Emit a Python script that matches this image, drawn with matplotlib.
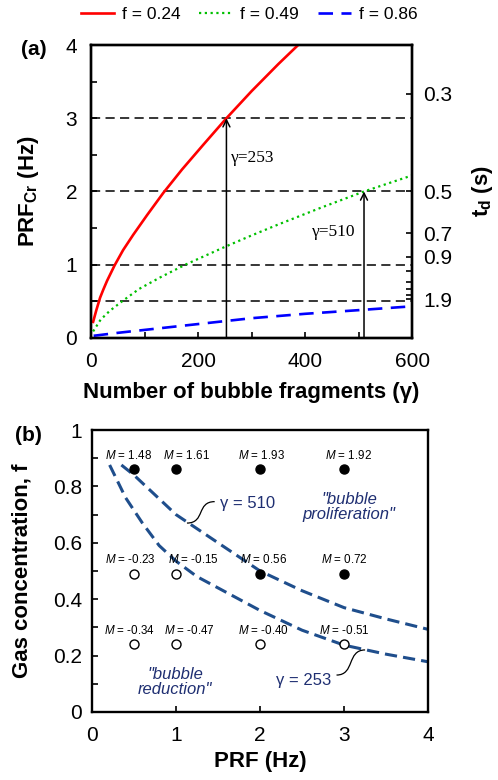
import matplotlib.pyplot as plt
import numpy as np
from matplotlib.path import Path
from matplotlib.patches import PathPatch
from matplotlib.ticker import FixedLocator, MultipleLocator

plt.rcParams['font.family'] = ['Liberation Sans', 'DejaVu Sans']
plt.rcParams['mathtext.fontset'] = 'custom'
plt.rcParams['mathtext.rm'] = 'Liberation Sans'
plt.rcParams['mathtext.it'] = 'Liberation Sans:italic'
plt.rcParams['mathtext.bf'] = 'Liberation Sans:bold'

# ================= (a) critical PRF vs number of fragments =================
gamma_024 = [4, 10, 17, 23, 30, 44, 60, 79, 105, 135, 170, 210, 253, 300, 350, 387]
prf_024 = [0.22, 0.38, 0.55, 0.66, 0.78, 0.99, 1.2, 1.41, 1.68, 1.98, 2.3, 2.64, 3.0, 3.37, 3.74, 4.0]

gamma_049 = [4, 18, 35, 58, 90, 130, 176, 252, 300, 350, 430, 510, 600]
prf_049 = [0.09, 0.25, 0.37, 0.5, 0.67, 0.83, 1.0, 1.25, 1.4, 1.55, 1.78, 2.0, 2.22]

gamma_086 = [5, 50, 100, 150, 200, 250, 300, 400, 500, 595]
prf_086 = [0.03, 0.07, 0.11, 0.15, 0.19, 0.23, 0.27, 0.33, 0.38, 0.43]

hlines = [0.5, 1, 2, 3]
gamma_marks = [253, 510]
prf_marks = [3, 2]

td_labels = [0.3, 0.5, 0.7, 0.9, 1.9]
td_minor = [1.1, 1.3, 1.5, 1.7]

# ================= (b) experiments =================
prf_exp = [0.5, 1, 2, 3]
f_rows = [0.86, 0.49, 0.24]
M_vals = [[1.48, 1.61, 1.93, 1.92],
          [-0.23, -0.15, 0.56, 0.72],
          [-0.34, -0.47, -0.40, -0.51]]
# horizontal shift of each M label from its point (PRF units)
label_dx = [[-0.06, 0.12, 0.02, 0.05],
            [-0.04, 0.21, 0.04, 0.0],
            [-0.05, 0.16, 0.04, 0.0]]

prf_510 = [0.35, 0.5, 0.75, 1.0, 1.25, 1.5, 2.0, 2.5, 3.0, 3.5, 4.0]
f_510 = [0.876, 0.84, 0.77, 0.70, 0.65, 0.60, 0.50, 0.43, 0.37, 0.33, 0.293]
prf_253 = [0.21, 0.4, 0.6, 0.8, 1.0, 1.25, 1.5, 2.0, 2.5, 3.0, 3.5, 4.0]
f_253 = [0.876, 0.76, 0.67, 0.59, 0.535, 0.48, 0.44, 0.36, 0.29, 0.237, 0.205, 0.178]

navy = '#1f4e8c'
navy_txt = '#1f2f72'
tick_fs = 15
lab_fs = 16

fig = plt.figure(figsize=(4.98, 7.8), dpi=100)
ax1 = fig.add_axes([0.1827, 0.5667, 0.645, 0.3756])
ax2 = fig.add_axes([0.1847, 0.0872, 0.675, 0.3615])

# ---------------- panel (a) ----------------
for y in hlines:
    ax1.plot([0, 600], [y, y], color='black', lw=1.1, linestyle=(0, (6, 3.5)), zorder=1)
l1, = ax1.plot(gamma_024, prf_024, color='#ff0000', lw=1.9, label='f = 0.24', zorder=3)
l2, = ax1.plot(gamma_049, prf_049, color='#00c000', lw=1.6, linestyle=(0, (1, 1.6)), label='f = 0.49', zorder=3)
l3, = ax1.plot(gamma_086, prf_086, color='#0000ff', lw=1.9, linestyle=(0, (5.5, 3.2)), label='f = 0.86', zorder=3)
for g, p in zip(gamma_marks, prf_marks):
    ax1.annotate('', xy=(g, p), xytext=(g, 0),
                 arrowprops=dict(arrowstyle='->,head_length=0.5,head_width=0.25', color='black', lw=1.1,
                                 shrinkA=0, shrinkB=0), zorder=4)
ax1.text(262, 2.46, '\u03b3=253', family='Liberation Serif', fontsize=12.5, va='center', ha='left')
ax1.text(413, 1.45, '\u03b3=510', family='Liberation Serif', fontsize=12.5, va='center', ha='left')

ax1.set_xlim(0, 600)
ax1.set_ylim(0, 4)
ax1.xaxis.set_major_locator(MultipleLocator(200))
ax1.xaxis.set_minor_locator(MultipleLocator(100))
ax1.yaxis.set_major_locator(MultipleLocator(1))
ax1.yaxis.set_minor_locator(MultipleLocator(0.5))
ax1.set_xlabel('Number of bubble fragments (\u03b3)', fontsize=lab_fs, fontweight='bold')
ax1.set_ylabel(r'PRF$_{\mathbf{Cr}}$ (Hz)', fontsize=lab_fs, fontweight='bold')
ax1.xaxis.set_label_coords(0.5, -0.15)
ax1.yaxis.set_label_coords(-0.156, 0.5)

axr = ax1.twinx()
axr.set_ylim(0, 4)
axr.yaxis.set_major_locator(FixedLocator([1 / t for t in td_labels]))
axr.set_yticklabels([str(t) for t in td_labels])
axr.yaxis.set_minor_locator(FixedLocator([1 / t for t in td_minor]))
axr.set_ylabel(r't$_{\mathbf{d}}$ (s)', fontsize=lab_fs, fontweight='bold')
axr.yaxis.set_label_coords(1.18, 0.5)

fig.legend(handles=[l1, l2, l3], loc='center', bbox_to_anchor=(0.5, 0.981), ncol=3, frameon=False,
           fontsize=12.5, handlelength=1.9, handletextpad=0.45, columnspacing=1.1)

# ---------------- panel (b) ----------------
ax2.plot(prf_510, f_510, color=navy, lw=2.2, linestyle=(0, (4, 2)), zorder=2)
ax2.plot(prf_253, f_253, color=navy, lw=2.2, linestyle=(0, (4, 2)), zorder=2)
for f, row, drow in zip(f_rows, M_vals, label_dx):
    for p, m, dx in zip(prf_exp, row, drow):
        face = 'black' if m > 0 else 'white'
        ax2.plot(p, f, 'o', markersize=6.5, markerfacecolor=face, markeredgecolor='black',
                 markeredgewidth=1.0, zorder=3)
        ax2.text(p + dx, f + 0.027, r'$M$ = %.2f' % m, fontsize=8.4, ha='center', va='bottom', zorder=4)


def s_link(ax, p0, p3, dx):
    verts = [p0, (p0[0] + dx, p0[1]), (p3[0] - dx, p3[1]), p3]
    path = Path(verts, [Path.MOVETO, Path.CURVE4, Path.CURVE4, Path.CURVE4])
    ax.add_patch(PathPatch(path, facecolor='none', edgecolor='black', lw=0.9, zorder=4))


s_link(ax2, (1.13, 0.67), (1.46, 0.746), 0.22)
s_link(ax2, (3.25, 0.22), (2.91, 0.131), -0.22)
ax2.text(1.52, 0.74, '\u03b3 = 510', color=navy_txt, fontsize=12, ha='left', va='center')
ax2.text(2.52, 0.113, '\u03b3 = 253', color=navy_txt, fontsize=12, ha='center', va='center')
ax2.text(3.06, 0.727, '"bubble\nproliferation"', color=navy_txt, fontsize=12, style='italic',
         ha='center', va='center', linespacing=1.0)
ax2.text(0.99, 0.107, '"bubble\nreduction"', color=navy_txt, fontsize=12, style='italic',
         ha='center', va='center', linespacing=1.0)

ax2.set_xlim(0, 4)
ax2.set_ylim(0, 1)
ax2.xaxis.set_major_locator(MultipleLocator(1))
ax2.yaxis.set_major_locator(MultipleLocator(0.2))
ax2.yaxis.set_minor_locator(MultipleLocator(0.1))
ax2.yaxis.set_major_formatter(plt.FuncFormatter(
    lambda v, pos: '%d' % round(v) if abs(v - round(v)) < 1e-6 else '%.1f' % v))
ax2.set_xlabel('PRF (Hz)', fontsize=lab_fs, fontweight='bold')
ax2.set_ylabel('Gas concentration, f', fontsize=lab_fs, fontweight='bold')
ax2.xaxis.set_label_coords(0.5, -0.14)
ax2.yaxis.set_label_coords(-0.176, 0.5)

for ax in (ax1, axr, ax2):
    for s in ax.spines.values():
        s.set_linewidth(1.7)
    ax.tick_params(which='both', direction='in', labelsize=tick_fs, width=1.2, length=4)
ax1.tick_params(which='both', right=False, top=False)
ax1.tick_params(axis='y', pad=10)
ax1.tick_params(axis='x', pad=10)
axr.tick_params(which='both', left=False, pad=8)
ax2.tick_params(which='both', right=False, top=False)
ax2.tick_params(axis='y', pad=7)
ax2.tick_params(axis='x', pad=10)

fig.text(0.068, 0.936, '(a)', fontsize=15, fontweight='bold', ha='center', va='center')
fig.text(0.058, 0.442, '(b)', fontsize=15, fontweight='bold', ha='center', va='center')

plt.savefig('out.png', dpi=100)
